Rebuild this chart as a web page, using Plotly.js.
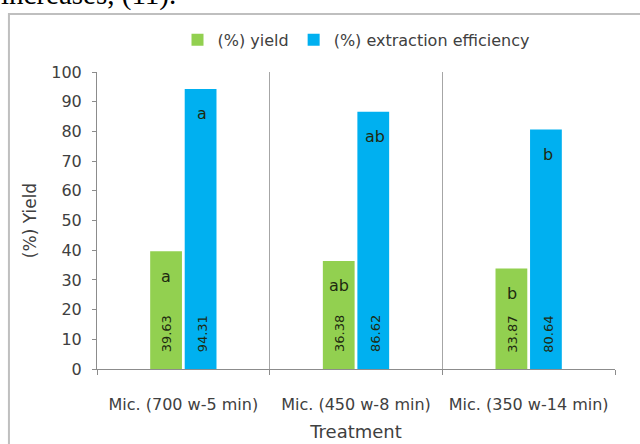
<!DOCTYPE html>
<html>
<head>
<meta charset="utf-8">
<script src="https://cdn.plot.ly/plotly-3.0.1.min.js"></script>
<style>html,body{margin:0;padding:0;background:#fff;}#chart{width:640px;height:444px;}</style>
</head>
<body>
<div id="chart"></div>
<script>
var categories = ["Mic. (700 w-5 min)", "Mic. (450 w-8 min)", "Mic. (350 w-14 min)"];
var yieldValues = [39.63, 36.38, 33.87];
var efficiencyValues = [94.31, 86.62, 80.64];
var yieldLetters = ["a", "ab", "b"];
var efficiencyLetters = ["a", "ab", "b"];
var yTickValues = [0, 10, 20, 30, 40, 50, 60, 70, 80, 90, 100];

var font = "'DejaVu Sans', sans-serif";
var traces = [
  {type: "bar", name: "(%) yield", x: categories, y: yieldValues,
   marker: {color: "#92D050"}, hoverinfo: "none"},
  {type: "bar", name: "(%) extraction efficiency", x: categories, y: efficiencyValues,
   marker: {color: "#00B0F0"}, hoverinfo: "none"}
];

var annotations = [];
var offs = [-17, 19];
[yieldValues, efficiencyValues].forEach(function (vals, s) {
  var letters = s === 0 ? yieldLetters : efficiencyLetters;
  vals.forEach(function (v, i) {
    annotations.push({x: categories[i], y: v, xref: "x", yref: "y", xshift: offs[s], yshift: -25,
      text: letters[i], showarrow: false, yanchor: "middle",
      font: {family: font, size: 16, color: "#1e2a10"}});
    annotations.push({x: categories[i], y: 0, xref: "x", yref: "y", xshift: offs[s], yshift: 35,
      text: v.toFixed(2), showarrow: false, textangle: -90, yanchor: "middle",
      font: {family: font, size: 13, color: "#1e2a10"}});
  });
});
annotations.push({x: -0.19, y: 1.2, xref: "paper", yref: "paper", xanchor: "left", yanchor: "bottom",
  text: "increases, (11).", showarrow: false, font: {family: "'Liberation Serif', serif", size: 29, color: "#000"}});

var layout = {
  width: 640, height: 444,
  margin: {l: 97, r: 25, t: 72, b: 75},
  paper_bgcolor: "#fff", plot_bgcolor: "#fff",
  barmode: "group", bargap: 0.6, bargroupgap: 0.08,
  showlegend: true,
  legend: {orientation: "h", x: 0.5, xanchor: "center", y: 1.108, yanchor: "middle",
    font: {family: font, size: 16, color: "#404040"}, itemwidth: 30},
  xaxis: {type: "category", tickson: "boundaries", showgrid: true, gridcolor: "#a6a6a6", gridwidth: 1,
    showline: true, linecolor: "#8c8c8c", ticks: "outside", ticklen: 5, tickcolor: "#8c8c8c",
    ticklabelstandoff: 21,
    tickfont: {family: font, size: 16, color: "#404040"},
    title: {text: "Treatment", font: {family: font, size: 18, color: "#404040"}, standoff: 12}},
  yaxis: {range: [0, 100], tickvals: yTickValues, showgrid: false, zeroline: false,
    showline: true, linecolor: "#8c8c8c", ticks: "outside", ticklen: 4, tickcolor: "#8c8c8c",
    ticklabelstandoff: 7,
    tickfont: {family: font, size: 16, color: "#404040"},
    title: {text: "(%) Yield", font: {family: font, size: 17, color: "#404040"}, standoff: 10}},
  shapes: [{type: "rect", xref: "paper", yref: "paper", x0: -0.17, x1: 1.1, y0: -0.3, y1: 1.195,
    line: {color: "#bfbfbf", width: 2}, fillcolor: "rgba(0,0,0,0)", layer: "below"}],
  annotations: annotations
};

Plotly.newPlot("chart", traces, layout, {staticPlot: true});
</script>
</body>
</html>
